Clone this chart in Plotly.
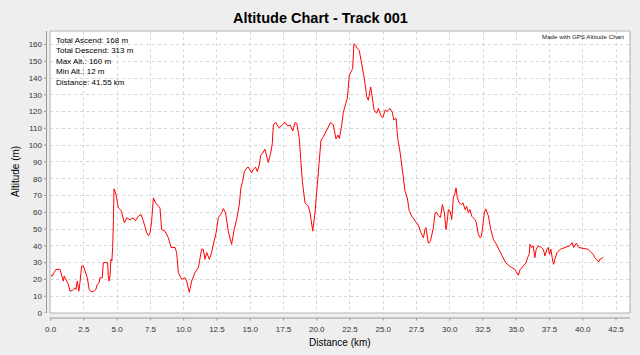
import plotly.graph_objects as go

# ---- data ----
distance_km = [
    0.00, 0.12, 0.25, 0.40, 0.70, 0.76, 0.83, 0.95, 1.02, 1.14, 1.33, 1.45, 1.65, 1.83, 1.90,
    2.00, 2.08, 2.12, 2.20, 2.33, 2.46, 2.58, 2.75, 2.90, 3.00, 3.20, 3.40, 3.50, 3.65, 3.70,
    3.88, 3.96, 4.28, 4.33, 4.40, 4.46, 4.53, 4.60, 4.66, 4.72, 4.76, 4.89, 5.09, 5.30, 5.54,
    5.71, 5.96, 6.20, 6.38, 6.59, 6.79, 6.96, 7.22, 7.35, 7.47, 7.59, 7.72, 7.89, 8.22, 8.34,
    8.60, 8.85, 9.05, 9.35, 9.47, 9.60, 9.85, 10.10, 10.22, 10.42, 10.60, 10.85, 11.10, 11.35,
    11.47, 11.60, 11.73, 11.93, 12.10, 12.23, 12.43, 12.60, 12.86, 12.98, 13.15, 13.35, 13.60,
    13.80, 13.98, 14.18, 14.30, 14.43, 14.56, 14.73, 14.86, 15.10, 15.23, 15.40, 15.53, 15.68,
    15.79, 15.94, 16.10, 16.36, 16.54, 16.66, 16.74, 16.91, 17.16, 17.41, 17.62, 17.82, 18.00,
    18.20, 18.37, 18.50, 18.69, 18.80, 18.92, 19.12, 19.37, 19.50, 19.62, 19.70, 19.87, 20.00,
    20.12, 20.25, 20.32, 20.50, 20.70, 20.87, 21.05, 21.25, 21.45, 21.60, 21.70, 21.88, 22.00,
    22.18, 22.30, 22.45, 22.70, 22.80, 22.93, 23.05, 23.20, 23.38, 23.58, 23.76, 23.88, 24.06,
    24.20, 24.31, 24.50, 24.63, 24.80, 24.96, 25.15, 25.30, 25.50, 25.68, 25.80, 25.96, 26.09,
    26.26, 26.47, 26.64, 26.81, 26.96, 27.14, 27.39, 27.64, 27.84, 28.02, 28.14, 28.22, 28.39,
    28.55, 28.77, 28.90, 29.00, 29.15, 29.30, 29.45, 29.60, 29.72, 29.78, 29.90, 30.03, 30.15,
    30.27, 30.37, 30.47, 30.57, 30.72, 30.87, 31.00, 31.15, 31.27, 31.40, 31.52, 31.65, 31.77,
    31.90, 32.00, 32.15, 32.30, 32.38, 32.45, 32.60, 32.70, 32.90, 33.08, 33.28, 33.50, 33.76,
    34.00, 34.20, 34.47, 34.72, 34.90, 35.00, 35.16, 35.30, 35.42, 35.55, 35.75, 35.85, 35.97,
    36.03, 36.15, 36.27, 36.40, 36.50, 36.65, 36.90, 37.02, 37.10, 37.15, 37.30, 37.40, 37.50,
    37.60, 37.70, 37.80, 37.90, 38.07, 38.32, 38.57, 38.82, 39.02, 39.20, 39.32, 39.51, 39.70,
    39.96, 40.20, 40.38, 40.58, 40.78, 40.90, 41.20, 41.28, 41.43, 41.55,
]
altitude_m = [
    22.5, 22, 24, 26, 26, 24.5, 22, 19, 22, 20, 17, 13, 13.5, 15, 14,
    19, 14, 13, 18, 28, 28, 25, 21, 14, 13, 12.6, 14, 17, 18, 21,
    21, 30, 30, 22, 19, 22, 32, 31, 39, 55, 74, 71.5, 62.6, 61, 53.7,
    56.7, 55.6, 56.7, 55, 57.7, 58.7, 55, 47.8, 46, 47.8, 54.7, 68.6, 65.6, 62.6, 49.8,
    48.7, 44.8, 39, 39, 36, 24, 20, 21, 19, 12.3, 19, 24, 27, 38,
    38, 32, 36, 32, 36, 41, 47.5, 56.7, 59.7, 62.2, 59.7, 48.8, 40.9,
    49.8, 55.7, 64.6, 74.5, 78.4, 84.3, 86.3, 87, 83.4, 85.6, 86.9, 84.3, 88.3,
    94, 95.2, 97.6, 89.7, 95.2, 101, 112, 113.6, 110.4, 112, 113.6, 111.4, 112,
    108.4, 113.4, 113, 104, 91.3, 78.4, 65.6, 63.6, 59.7, 50.8, 48.8, 59.7, 72.5,
    82.4, 95.2, 103, 105, 108, 111, 113.6, 112, 103.7, 106, 104, 112, 119.5,
    124.8, 127.8, 141.6, 145.6, 160.4, 159.4, 157.5, 156.4, 148.5, 139.7, 128.8, 126.8, 134.7,
    126.8, 120.9, 119, 121.9, 118, 116.4, 120.9, 120, 121.9, 119.5, 115, 116, 104,
    96, 83.4, 72.5, 68.6, 60.6, 57.7, 54.7, 52.3, 47.8, 44.8, 49.8, 50.8, 41.5,
    43, 50.8, 59.7, 60, 58, 57, 64.6, 59.7, 49.8, 52.7, 61.6, 60.7, 55.7,
    68.6, 70.6, 74.5, 68.6, 65.6, 64.6, 65.6, 61.6, 63.6, 59.7, 61.6, 57.7, 56.7,
    55.7, 53.7, 46.8, 44.8, 45.8, 49.8, 59.7, 62, 58, 49.8, 43.9, 41, 37,
    33, 30, 28, 27, 26, 24.6, 22.5, 26, 27, 28, 30, 33, 35,
    40.9, 39, 40, 33, 38, 40, 39, 38, 36, 34, 38, 39, 35,
    38, 33, 29, 32, 36, 38, 39, 39.5, 40, 41.9, 39, 41.5, 39,
    38.6, 38, 38, 36.5, 35, 33, 30.4, 32, 32.5, 33.4,
]

x_ticks = [i * 2.5 for i in range(18)]          # 0.0 .. 42.5
y_ticks = list(range(0, 170, 10))               # 0 .. 160

chart_title = "Altitude Chart - Track 001"
x_title = "Distance (km)"
y_title = "Altitude (m)"
info_lines = [
    "Total Ascend: 168 m",
    "Total Descend: 313 m",
    "Max Alt.: 160 m",
    "Min Alt.: 12 m",
    "Distance: 41.55 km",
]
credit = "Made with GPS Altitude Chart"

# ---- geometry ----
W, H = 640, 355
ML, MR, MT, MB = 50, 10, 31, 42
PW, PH = W - ML - MR, H - MT - MB


def px_to_paper_x(px):
    return (px - ML) / PW


def px_to_paper_y(py):
    return (H - MB - py) / PH


FONT = "Liberation Sans, Arial, sans-serif"
AXIS_GRAY = "#9a9a9a"

fig = go.Figure()
fig.add_trace(go.Scatter(
    x=distance_km, y=altitude_m, mode="lines",
    line=dict(color="#ff0000", width=1), hoverinfo="skip", showlegend=False,
))

shapes = []
# plot frame
shapes.append(dict(type="rect", xref="paper", yref="paper", x0=0, x1=1, y0=0, y1=1,
                   line=dict(color="#b4b4b4", width=1), layer="above"))
shapes.append(dict(type="line", xref="paper", yref="paper",
                   x0=px_to_paper_x(630.5), x1=px_to_paper_x(630.5), y0=0, y1=1,
                   line=dict(color="#c8c8c8", width=1), layer="above"))
# offset axis lines (JFreeChart style)
xa_y = px_to_paper_y(318)
ya_x = px_to_paper_x(46.5)
shapes.append(dict(type="line", xref="paper", yref="paper", x0=0, x1=1, y0=xa_y, y1=xa_y,
                   line=dict(color=AXIS_GRAY, width=1)))
shapes.append(dict(type="line", xref="paper", yref="paper", x0=ya_x, x1=ya_x, y0=0, y1=1,
                   line=dict(color=AXIS_GRAY, width=1)))
# tick marks on the offset axis lines
for t in x_ticks:
    shapes.append(dict(type="line", xref="x", yref="paper", x0=t, x1=t,
                       y0=xa_y, y1=px_to_paper_y(320.5),
                       line=dict(color=AXIS_GRAY, width=1)))
for t in y_ticks:
    shapes.append(dict(type="line", xref="paper", yref="y", y0=t, y1=t,
                       x0=ya_x, x1=px_to_paper_x(44),
                       line=dict(color=AXIS_GRAY, width=1)))

annotations = []
annotations.append(dict(text=f"<b>{chart_title}</b>", xref="paper", yref="paper",
                        x=px_to_paper_x(320), y=px_to_paper_y(18.5),
                        xanchor="center", yanchor="middle", showarrow=False,
                        font=dict(family=FONT, size=14.5, color="#000000")))
annotations.append(dict(text=x_title, xref="paper", yref="paper",
                        x=px_to_paper_x(340), y=px_to_paper_y(342),
                        xanchor="center", yanchor="middle", showarrow=False,
                        font=dict(family=FONT, size=10, color="#000000")))
annotations.append(dict(text=y_title, xref="paper", yref="paper",
                        x=px_to_paper_x(15), y=px_to_paper_y(172),
                        xanchor="center", yanchor="middle", showarrow=False, textangle=-90,
                        font=dict(family=FONT, size=10, color="#000000")))
annotations.append(dict(text="<br>".join(info_lines), xref="paper", yref="paper",
                        x=px_to_paper_x(54), y=px_to_paper_y(34),
                        xanchor="left", yanchor="top", align="left", showarrow=False,
                        font=dict(family=FONT, size=8, color="#000000")))
annotations.append(dict(text=credit, xref="paper", yref="paper",
                        x=px_to_paper_x(626), y=px_to_paper_y(36.5),
                        xanchor="right", yanchor="middle", showarrow=False,
                        font=dict(family=FONT, size=6.2, color="#222222")))

fig.update_layout(
    width=W, height=H,
    margin=dict(l=ML, r=MR, t=MT, b=MB, pad=0, autoexpand=False),
    paper_bgcolor="#eeeeee", plot_bgcolor="#ffffff",
    showlegend=False,
    shapes=shapes, annotations=annotations,
    xaxis=dict(
        range=[-0.05, 43.55], tickmode="array", tickvals=x_ticks,
        ticktext=[f"{t:.1f}" for t in x_ticks], automargin=False,
        showgrid=True, gridcolor="#d6d6d6", griddash="dot", gridwidth=1,
        zeroline=False, showline=False, ticks="",
        tickfont=dict(family=FONT, size=8, color="#333333"),
        ticklabelstandoff=10, fixedrange=True,
    ),
    yaxis=dict(
        range=[0, 168], tickmode="array", tickvals=y_ticks,
        ticktext=[str(t) for t in y_ticks], automargin=False,
        showgrid=True, gridcolor="#d6d6d6", griddash="dot", gridwidth=1,
        zeroline=False, showline=False, ticks="",
        tickfont=dict(family=FONT, size=8, color="#333333"),
        ticklabelstandoff=7, fixedrange=True,
    ),
)

fig.write_html(
    "out.html",
    config={"displayModeBar": False},
    post_script="document.body.style.margin='0';document.body.style.background='#eeeeee';",
)
